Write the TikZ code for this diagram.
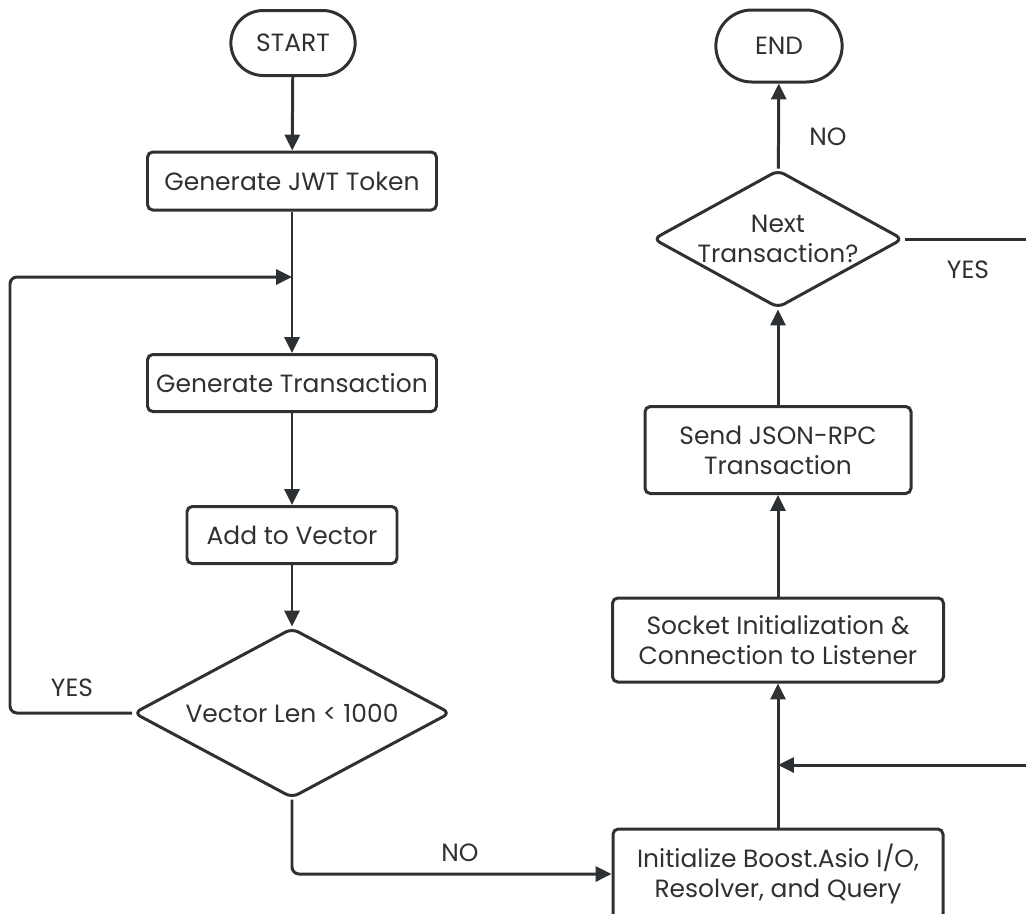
\documentclass[tikz,border=0pt]{standalone}
\usepackage{fontspec}
\setmainfont{Poppins}
\usetikzlibrary{arrows.meta,shapes.geometric,shapes.misc}
\definecolor{ink}{HTML}{2E3133}
\begin{document}
\begin{tikzpicture}[line width=1.7pt,draw=ink,text=ink,>={Triangle[length=9pt,width=8.5pt]},
  every node/.style={font=\fontsize{14.2}{17}\selectfont,align=center},
  box/.style={draw,rounded corners=3pt,inner sep=2pt},
  term/.style={draw,rounded rectangle},
  choice/.style={draw,diamond,rounded corners=4pt,inner sep=0pt}]
  \useasboundingbox (0,0) rectangle (20.52,-18.26);
  \clip (0,0) rectangle (20.52,-18.26);
  % left column
  \node[term,minimum width=2.72cm,minimum height=1.30cm] (start) at (5.86,-0.86) {START};
  \node[box,minimum width=5.78cm,minimum height=1.16cm] (jwt) at (5.84,-3.62) {Generate JWT Token};
  \node[box,minimum width=5.78cm,minimum height=1.14cm] (gtx) at (5.84,-7.66) {Generate Transaction};
  \node[box,minimum width=4.20cm,minimum height=1.14cm] (add) at (5.84,-10.70) {Add to Vector};
  \node[choice,aspect=1.86,minimum width=6.34cm,minimum height=3.40cm] (vlen) at (5.84,-14.26) {Vector Len < 1000};
  % right column
  \node[box,minimum width=6.60cm,minimum height=1.80cm] (init) at (15.56,-17.48) {Initialize Boost.Asio I/O,\\ Resolver, and Query};
  \node[box,minimum width=6.62cm,minimum height=1.68cm] (sock) at (15.56,-12.80) {Socket Initialization \&\\ Connection to Listener};
  \node[box,minimum width=5.32cm,minimum height=1.74cm] (send) at (15.56,-9.00) {Send JSON-RPC\\ Transaction};
  \node[choice,aspect=1.8,minimum width=5.00cm,minimum height=2.76cm] (next) at (15.56,-4.78) {Next\\ Transaction?};
  \node[term,minimum width=2.76cm,minimum height=1.44cm] (endn) at (15.58,-0.92) {END};
  % loop points
  \coordinate (join) at (5.84,-5.54);
  \coordinate (loopL) at (0.2,-5.54);
  \coordinate (edgeR) at (20.52,-4.77);
  \coordinate (edgeB) at (20.52,-15.30);
  % connectors
  \draw[->] (start) -- (jwt);
  \draw[->] (jwt) -- (gtx);
  \draw[->] (gtx) -- (add);
  \draw[->] (add) -- (vlen);
  \draw[->,rounded corners=4pt] (vlen.west) -- (vlen.west -| loopL) -- (loopL) -- (join);
  \draw[->,rounded corners=4pt] (vlen.south) |- (init.west);
  \draw[->] (init) -- (sock);
  \draw[->] (sock) -- (send);
  \draw[->] (send) -- (next);
  \draw[->] (next) -- (endn);
  \draw (next.east) -- (next.east -| edgeR);
  \draw[->] (edgeB) -- (edgeB -| init);
  % labels
  \node (yesL) at (1.44,-13.76) {YES};
  \node (noB) at (9.20,-17.06) {NO};
  \node (noT) at (16.56,-2.74) {NO};
  \node (yesR) at (19.36,-5.40) {YES};
\end{tikzpicture}
\end{document}
